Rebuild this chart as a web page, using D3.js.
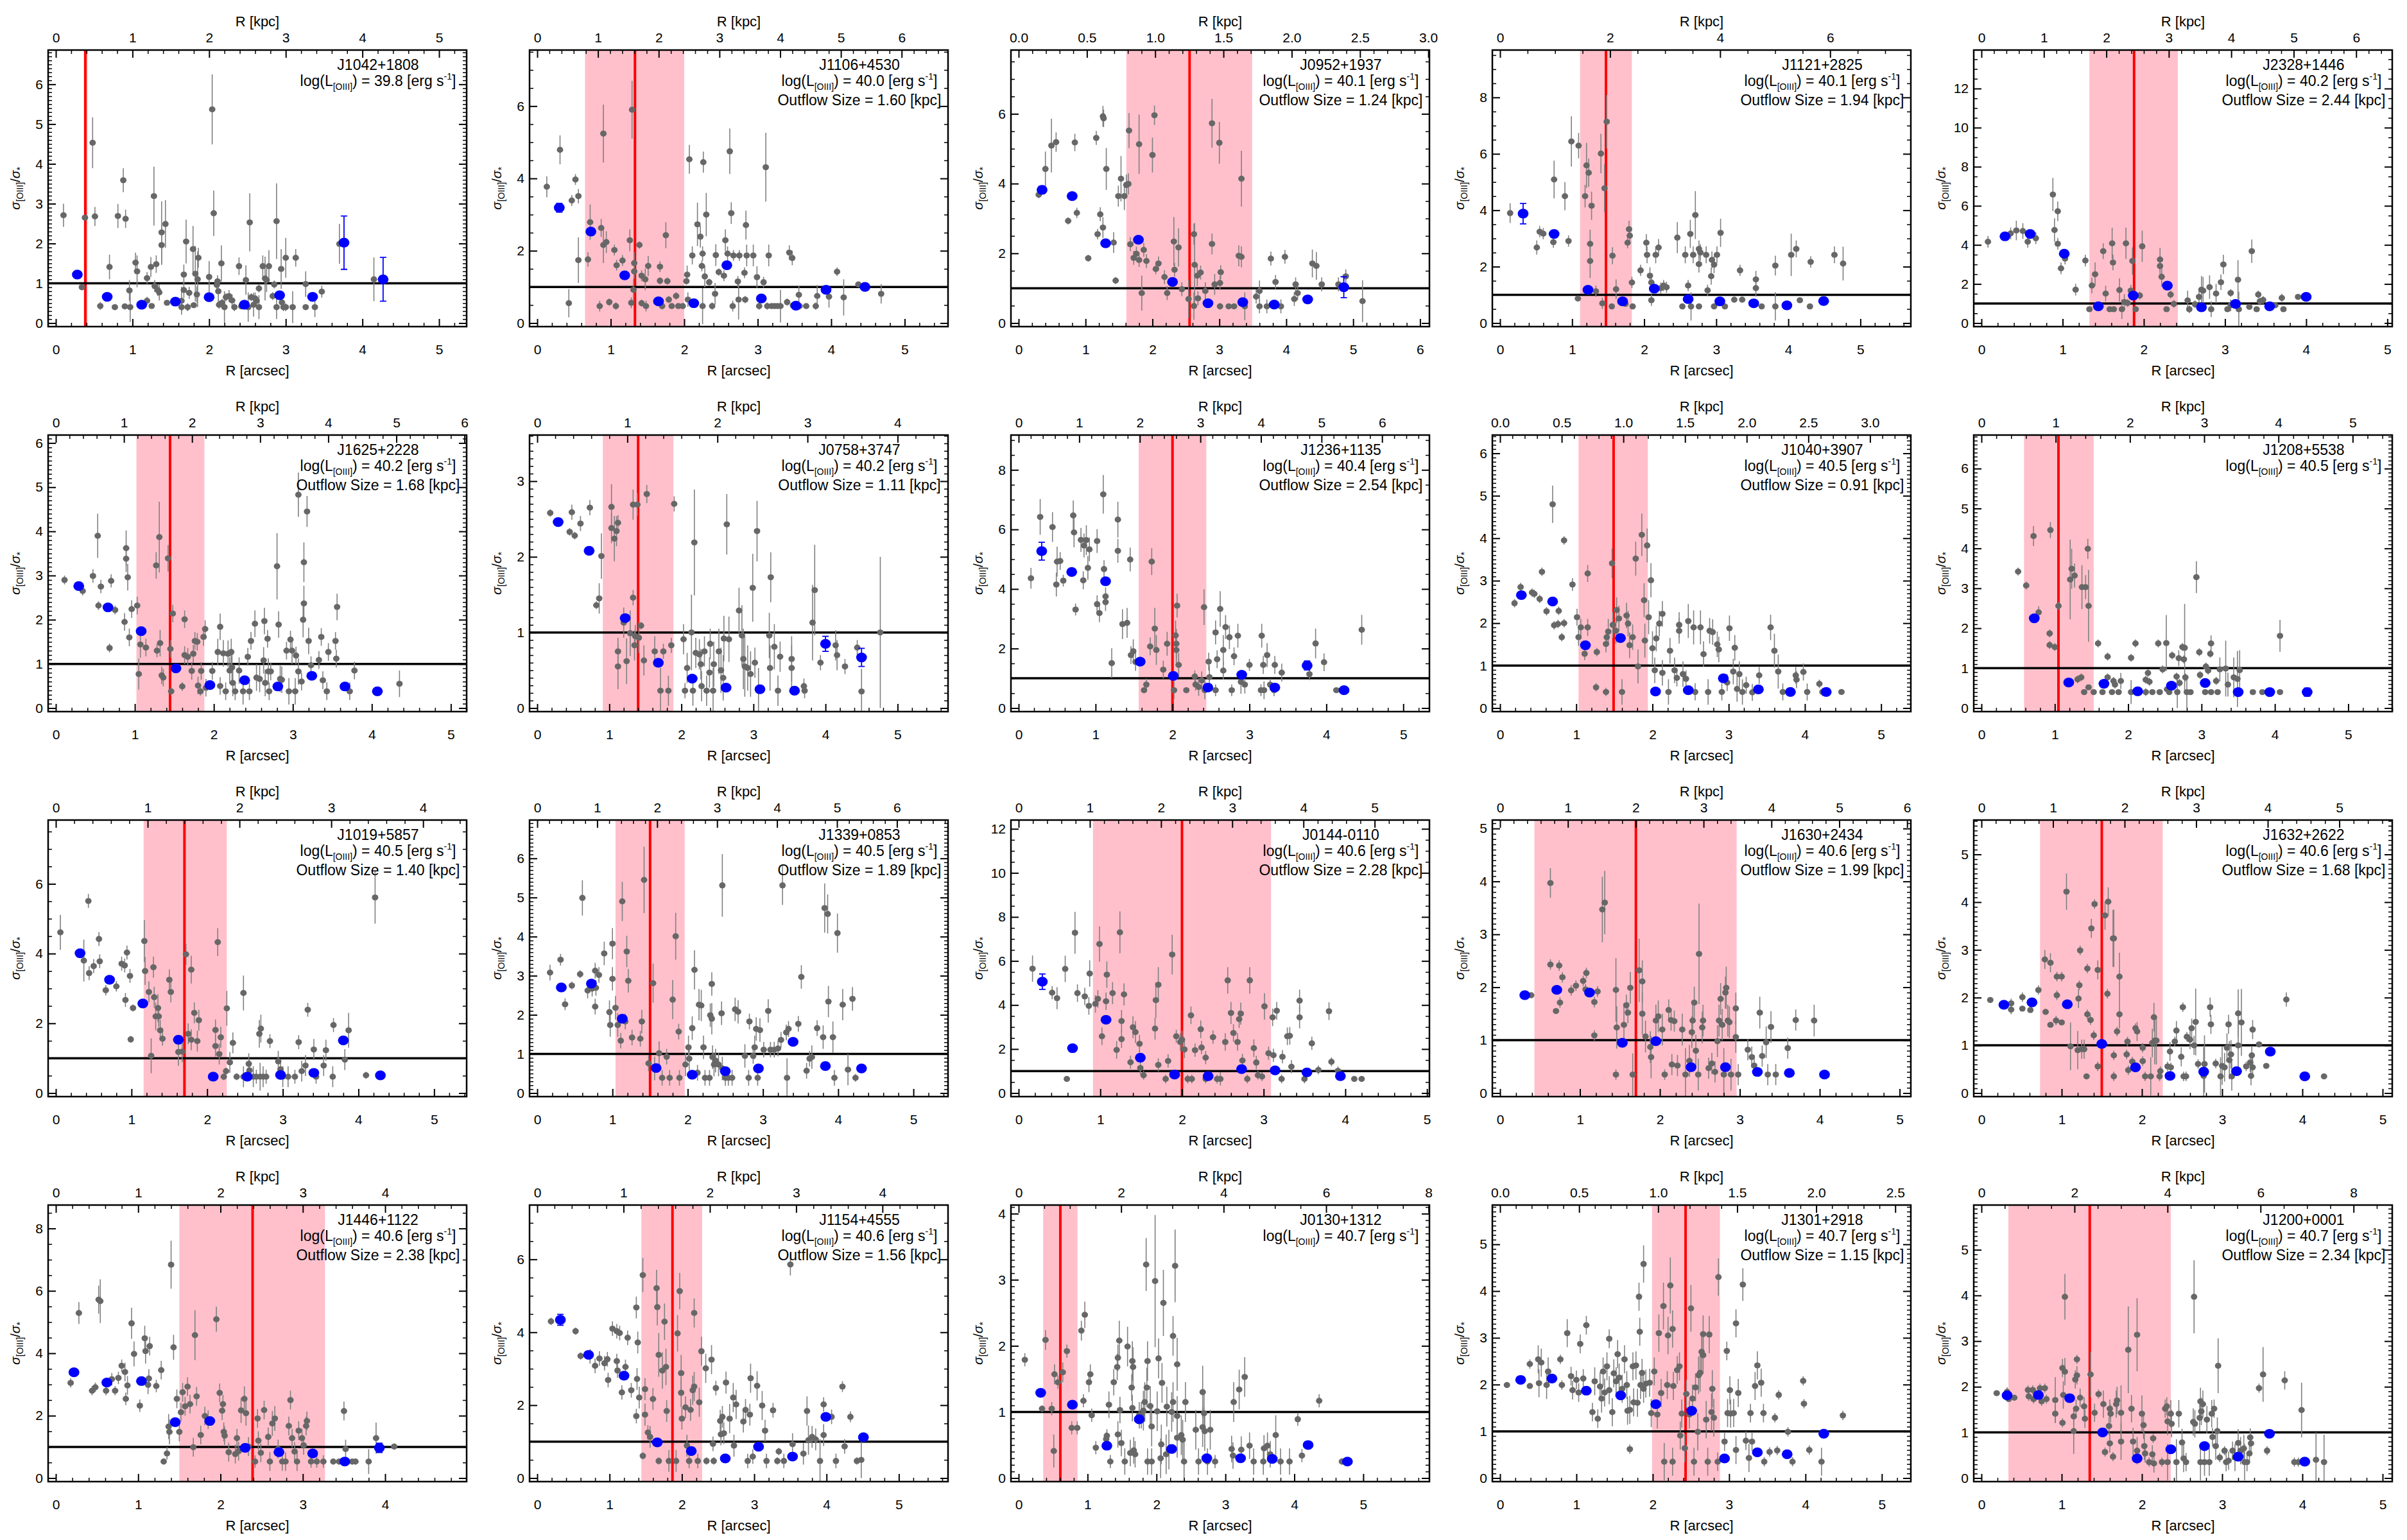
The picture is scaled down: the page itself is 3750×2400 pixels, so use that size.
<!DOCTYPE html>
<html>
<head>
<meta charset="utf-8">
<script src="https://cdn.jsdelivr.net/npm/d3@7"></script>
<style>
body { margin: 0; background: #fff; }
text { font-family: "Liberation Sans", Arial, Helvetica, sans-serif; }
</style>
</head>
<body>
<script>
// ---- panel meta data (one entry per panel, row by row) ----
const names = ["J1042+1808","J1106+4530","J0952+1937","J1121+2825","J2328+1446",
               "J1625+2228","J0758+3747","J1236+1135","J1040+3907","J1208+5538",
               "J1019+5857","J1339+0853","J0144-0110","J1630+2434","J1632+2622",
               "J1446+1122","J1154+4555","J0130+1312","J1301+2918","J1200+0001"];
const logL = ["39.8","40.0","40.1","40.1","40.2","40.2","40.2","40.4","40.5","40.5",
              "40.5","40.5","40.6","40.6","40.6","40.6","40.6","40.7","40.7","40.7"];
const outflow = [null,"1.60","1.24","1.94","2.44","1.68","1.11","2.54","0.91",null,
                 "1.40","1.89","2.28","1.99","1.68","2.38","1.56",null,"1.15","2.34"];
// arcsec axis upper limit, kpc per arcsec, top axis step
const xMax = [5.36,5.59,6.14,5.70,5.06,5.20,5.70,5.34,5.39,5.60,
              5.43,5.46,5.03,5.14,5.12,4.99,5.68,5.96,5.38,5.12];
const kpcScale = [1.0,1.21,0.49,1.31,1.30,1.16,0.80,1.27,0.618,0.988,
                  0.824,1.255,1.147,1.178,1.121,1.0,0.838,1.345,0.483,1.725];
const kpcStep = [1,1,0.5,2,1,1,1,1,0.5,1,1,1,1,1,1,1,1,2,0.5,2];
// y axis upper limit and major step
const yMax = [6.86,7.55,7.83,9.68,13.97,6.18,3.61,9.17,6.43,6.84,
              7.83,6.98,12.4,5.16,5.72,8.75,7.49,4.13,5.84,5.98];
const yStep = [1,2,2,2,2,1,1,2,1,1,2,1,2,1,1,2,2,1,1,1];
// outflow radius (red line) and its range (pink band), arcsec
const redR = [0.385,1.33,2.555,1.47,1.88,1.446,1.40,2.00,1.49,1.05,
              1.70,1.50,2.00,1.70,1.50,2.39,1.87,0.605,2.43,1.35];
const bandLo = [0.365,0.65,1.61,1.11,1.33,1.02,0.91,1.56,1.03,0.58,
                1.16,1.04,0.91,0.43,0.73,1.50,1.44,0.356,1.99,0.336];
const bandHi = [0.415,2.00,3.49,1.83,2.42,1.88,1.89,2.44,1.94,1.53,
                2.26,1.96,3.09,2.96,2.26,3.27,2.28,0.854,2.88,2.36];

// ---- spaxel points: R [arcsec], sigma ratio, error (flattened triples) ----
const grey = [
[0.10,2.71,0.29,0.34,0.90,0.05,0.38,2.65,0.05,0.48,4.53,0.64,0.51,2.68,0.24,0.58,0.43,0.1,0.70,1.41,0.31,0.77,0.40,0.05,0.81,2.69,0.3,0.88,3.59,0.3,0.91,2.62,0.23,0.90,0.42,0.05,0.96,0.82,0.26,0.97,0.40,0.37,1.04,1.52,0.25,1.06,1.30,0.4,1.19,1.13,0.15,1.19,0.56,0.1,1.24,1.41,0.25,1.25,0.43,0.05,1.28,3.19,0.74,1.29,0.93,0.15,1.31,1.48,0.22,1.33,0.83,0.15,1.35,0.77,0.2,1.38,2.28,0.78,1.38,1.96,0.5,1.43,2.49,0.6,1.45,0.51,0.05,1.64,0.56,0.35,1.64,0.40,0.1,1.67,1.22,0.25,1.67,0.83,0.2,1.70,2.05,0.55,1.72,0.40,0.1,1.74,0.76,0.15,1.79,1.86,0.58,1.80,0.45,0.05,1.82,1.24,0.7,1.84,0.72,0.2,1.85,1.10,0.7,1.86,1.64,0.25,2.00,1.16,0.4,2.04,5.37,0.88,2.06,2.76,0.57,2.10,0.96,0.15,2.11,1.05,0.15,2.12,0.80,0.3,2.13,0.46,0.1,2.16,1.50,0.45,2.17,0.51,0.1,2.20,0.40,0.4,2.22,0.65,0.1,2.26,0.68,0.15,2.30,0.57,0.15,2.33,0.40,0.1,2.39,1.43,0.22,2.42,0.42,0.05,2.48,1.08,0.37,2.51,0.40,0.37,2.53,2.53,0.73,2.55,0.65,0.1,2.58,0.46,0.3,2.60,0.62,0.15,2.62,0.56,0.1,2.65,0.40,0.3,2.65,0.87,0.1,2.70,1.43,0.27,2.73,1.12,0.55,2.75,1.08,0.3,2.78,1.43,0.4,2.85,0.97,0.1,2.83,0.68,0.1,2.88,2.56,0.95,2.88,0.40,0.3,2.94,1.36,0.5,2.95,0.52,0.15,2.97,0.40,0.1,3.00,1.64,0.5,3.00,0.40,0.1,3.09,0.40,0.4,3.13,1.64,0.22,3.26,0.98,0.32,3.26,0.40,0.05,3.38,0.40,0.25,3.47,0.79,0.15,3.70,1.99,0.5,4.15,1.10,0.55],
[0.13,3.77,0.29,0.31,4.79,0.4,0.43,0.55,0.39,0.47,3.39,0.15,0.52,3.97,0.15,0.56,3.51,0.2,0.56,1.74,0.63,0.69,1.76,0.2,0.72,2.79,0.49,0.85,0.47,0.15,0.87,2.63,0.25,0.90,5.24,0.8,0.90,2.16,0.5,0.94,2.24,0.3,0.98,0.58,0.1,1.05,2.02,0.15,1.07,0.47,0.1,1.08,1.60,0.15,1.16,1.73,0.15,1.26,2.29,0.3,1.28,0.56,0.15,1.29,5.90,0.8,1.31,0.92,0.3,1.32,1.66,0.3,1.32,1.43,0.2,1.39,2.16,0.1,1.42,1.31,0.15,1.47,1.21,0.3,1.42,0.55,0.1,1.48,0.47,0.15,1.51,1.58,0.28,1.67,1.56,0.15,1.67,1.17,0.1,1.70,0.47,0.1,1.75,2.43,0.36,1.77,1.16,0.1,1.79,0.65,0.1,1.83,0.47,0.05,1.89,0.75,0.1,1.92,0.47,0.05,1.98,0.47,0.05,2.03,1.16,0.1,2.04,1.34,0.25,2.07,4.53,0.4,2.05,0.65,0.2,2.11,1.87,0.25,2.18,2.73,0.6,2.22,2.39,0.3,2.24,1.58,0.15,2.25,1.92,0.2,2.26,4.45,0.29,2.25,0.47,0.5,2.28,1.29,0.3,2.30,3.00,0.6,2.34,1.13,0.1,2.38,0.47,0.1,2.42,0.81,0.3,2.43,1.88,0.3,2.47,1.41,0.1,2.54,1.31,0.15,2.56,2.29,0.3,2.59,1.92,0.2,2.62,4.75,0.63,2.64,3.04,0.3,2.66,0.47,0.15,2.67,1.87,0.15,2.73,1.15,0.15,2.74,0.65,0.55,2.75,1.87,0.15,2.82,1.39,0.15,2.84,2.71,0.4,2.83,0.65,0.1,2.85,1.87,0.3,2.94,1.87,0.3,2.99,1.27,0.3,3.02,0.47,0.1,3.08,1.13,0.15,3.11,4.31,0.95,3.13,0.47,0.1,3.15,1.87,0.3,3.19,0.47,0.05,3.23,0.47,0.05,3.27,0.47,0.05,3.31,0.47,0.45,3.40,0.58,0.1,3.43,1.95,0.2,3.47,1.80,0.2,3.48,0.49,0.1,3.56,0.78,0.25,3.57,0.47,0.1,3.66,0.47,0.05,3.79,0.47,0.1,3.81,0.75,0.3,3.97,0.73,0.3,4.08,1.42,0.12,4.17,0.71,0.5,4.37,1.07,0.05,4.68,0.81,0.27],
[0.30,3.68,0.1,0.40,4.42,0.5,0.49,5.09,0.77,0.56,5.19,0.28,0.74,2.93,0.1,0.84,5.18,0.25,0.87,3.16,0.15,1.04,1.86,0.1,1.16,5.31,0.2,1.18,2.55,0.15,1.22,3.12,0.2,1.26,5.93,0.3,1.27,5.87,0.25,1.26,2.74,0.3,1.31,4.42,0.6,1.42,2.31,0.3,1.45,1.22,0.1,1.49,3.64,0.3,1.53,4.14,0.65,1.58,3.64,0.4,1.61,3.96,0.3,1.64,3.99,0.3,1.65,5.52,0.5,1.67,2.26,0.2,1.72,1.87,0.2,1.76,1.99,0.2,1.80,5.13,0.85,1.80,1.81,0.2,1.84,0.86,0.5,1.87,2.10,0.2,1.91,1.78,0.2,2.00,4.82,0.5,2.03,5.96,0.28,2.05,1.55,0.15,2.09,1.71,0.2,2.18,1.32,0.2,2.22,0.86,0.2,2.32,2.34,0.7,2.33,1.53,0.2,2.39,2.17,0.55,2.44,0.97,0.2,2.54,0.69,0.55,2.62,2.55,0.3,2.62,0.49,0.4,2.63,1.67,1.2,2.67,1.36,0.3,2.72,1.45,0.2,2.68,0.71,0.2,2.79,0.92,0.25,2.89,5.73,0.7,2.89,2.27,0.3,2.93,1.11,0.3,3.00,5.17,0.6,3.01,1.15,0.2,3.02,1.46,0.2,3.01,0.48,0.1,3.14,0.48,0.05,3.22,0.48,0.05,3.29,1.93,0.3,3.33,1.90,0.3,3.33,4.14,0.8,3.38,0.48,0.4,3.55,0.76,0.2,3.60,0.92,0.3,3.60,0.48,0.2,3.71,0.48,0.2,3.77,1.85,0.2,3.84,1.18,0.2,3.92,0.48,0.2,3.98,1.90,0.2,4.12,0.69,0.2,4.14,1.11,0.2,4.17,0.86,0.2,4.39,1.71,0.4,4.45,1.64,0.4,4.53,1.11,0.2,4.78,1.11,0.2,4.89,1.34,0.2,5.14,0.63,0.6],
[0.14,3.90,0.35,0.51,2.68,0.25,0.55,3.24,0.2,0.60,3.17,0.2,0.74,2.87,0.2,0.75,5.09,0.67,0.90,4.50,0.5,0.95,2.91,0.2,0.99,6.44,0.89,1.08,0.87,0.1,1.09,6.29,0.45,1.18,4.50,0.4,1.20,5.59,0.8,1.23,5.33,0.5,1.25,2.81,0.5,1.25,2.20,0.6,1.27,4.16,0.5,1.33,1.13,0.2,1.40,6.01,0.7,1.42,0.70,0.2,1.45,4.78,0.85,1.48,7.14,0.95,1.55,0.59,0.05,1.56,2.39,0.3,1.61,1.20,0.35,1.74,0.68,0.1,1.77,2.85,0.2,1.79,3.33,0.3,1.80,3.10,0.2,1.83,1.44,0.2,1.84,0.59,0.1,1.95,1.87,0.2,2.03,2.85,0.3,2.04,2.42,0.3,2.08,1.68,0.3,2.10,1.44,0.3,2.10,0.81,0.2,2.16,2.42,0.3,2.20,2.68,0.3,2.23,1.24,0.2,2.27,1.33,0.2,2.31,1.27,0.2,2.46,3.03,0.55,2.53,0.59,0.1,2.57,2.42,0.3,2.61,1.33,0.2,2.64,3.16,0.5,2.65,0.59,0.5,2.68,2.42,0.3,2.71,3.83,0.85,2.76,2.63,0.3,2.76,2.09,0.3,2.76,0.59,0.1,2.78,2.50,0.3,2.86,2.42,0.3,2.88,1.16,0.2,2.93,1.66,0.3,2.94,2.24,0.3,2.97,2.07,0.3,3.01,2.42,0.3,3.06,3.20,0.5,2.97,0.59,0.1,3.12,0.59,0.1,3.25,0.83,0.1,3.33,1.87,0.2,3.36,0.83,0.1,3.55,1.55,0.3,3.55,1.24,0.3,3.63,0.59,0.1,3.82,2.04,0.35,3.82,0.59,0.5,4.04,2.42,0.75,4.11,2.63,0.3,4.16,0.81,0.1,4.30,0.59,0.1,4.31,2.17,0.2,4.64,2.42,0.3,4.76,2.11,0.6],
[0.08,4.16,0.3,0.36,4.59,0.3,0.43,4.74,0.5,0.51,4.71,0.4,0.57,4.16,0.3,0.67,4.34,0.3,0.88,6.58,0.85,0.90,4.76,0.6,0.94,5.72,0.5,0.94,4.06,0.3,0.98,2.80,0.3,1.03,3.30,0.3,1.16,1.71,0.3,1.28,3.20,0.3,1.33,0.71,0.1,1.36,1.92,0.4,1.40,2.50,0.6,1.50,3.68,0.4,1.53,1.51,0.4,1.58,0.71,0.1,1.61,4.08,0.8,1.62,3.10,0.4,1.63,0.71,0.1,1.70,1.69,0.6,1.73,0.71,0.5,1.76,1.08,0.4,1.78,4.08,0.8,1.80,1.03,0.2,1.84,1.66,0.3,1.86,3.18,0.7,1.90,0.71,0.1,1.95,1.41,0.2,1.98,3.93,0.8,2.20,3.25,0.6,2.20,2.92,0.5,2.22,2.37,0.5,2.28,0.71,0.1,2.33,1.46,0.2,2.37,0.98,0.2,2.54,1.16,0.5,2.56,0.71,0.2,2.63,0.96,0.2,2.68,1.34,0.3,2.71,1.71,0.7,2.73,1.66,0.7,2.81,1.84,0.6,2.83,0.71,0.4,2.89,1.51,0.5,2.95,2.09,0.4,2.98,3.00,0.5,3.03,0.71,0.1,3.07,1.54,0.2,3.07,0.91,0.3,3.16,2.22,1.0,3.17,0.71,0.9,3.30,0.83,0.1,3.33,3.68,0.6,3.39,0.71,0.1,3.41,1.46,0.2,3.43,1.11,0.2,3.47,1.18,0.2,3.62,0.91,0.1,3.70,1.29,0.2,3.72,0.71,0.1,3.90,1.34,0.1],
[0.11,2.90,0.1,0.34,2.65,0.1,0.47,2.99,0.15,0.53,3.90,0.5,0.54,2.32,0.1,0.57,2.75,0.15,0.68,1.36,0.1,0.70,2.88,0.15,0.75,2.22,0.1,0.87,1.95,0.2,0.89,3.62,0.4,0.89,3.38,0.3,0.91,2.96,0.3,0.93,1.60,0.2,0.96,2.24,0.2,1.03,2.32,0.2,1.05,0.77,0.35,1.07,1.44,0.3,1.14,1.37,0.2,1.27,3.23,0.3,1.28,1.30,0.15,1.31,3.87,0.8,1.32,1.47,0.3,1.34,0.74,0.2,1.36,0.69,0.2,1.42,3.39,0.3,1.45,1.34,0.2,1.46,0.38,0.1,1.48,2.14,0.2,1.60,0.49,0.1,1.63,2.01,0.2,1.63,1.20,0.2,1.67,1.16,0.2,1.72,0.84,0.2,1.74,1.23,0.2,1.76,1.52,0.2,1.79,1.50,0.2,1.80,0.51,0.2,1.83,0.38,0.1,1.84,0.84,0.2,1.87,1.61,0.2,1.89,1.79,0.2,1.90,0.46,0.2,1.98,0.84,0.2,2.05,1.27,0.3,2.08,1.84,0.3,2.08,0.50,0.2,2.12,1.24,0.3,2.15,0.38,0.2,2.18,1.23,0.3,2.20,0.85,0.3,2.22,1.27,0.3,2.23,0.92,0.3,2.24,0.57,0.3,2.27,0.38,0.2,2.32,0.85,0.3,2.37,0.38,0.3,2.43,1.16,0.2,2.45,0.38,0.2,2.47,1.52,0.2,2.52,1.91,0.3,2.54,0.69,0.3,2.58,0.66,0.3,2.63,1.08,0.3,2.64,1.97,0.3,2.65,0.57,0.3,2.68,1.57,0.2,2.69,0.83,0.3,2.70,0.38,0.2,2.72,0.83,0.2,2.80,3.21,0.75,2.82,1.89,0.3,2.84,0.66,0.3,2.86,0.64,0.3,2.92,1.30,0.2,2.95,0.38,0.3,2.97,1.55,0.2,2.99,1.30,0.3,3.03,0.38,0.3,3.04,1.19,0.2,3.07,0.83,0.3,3.07,4.83,0.5,3.11,0.60,0.2,3.13,2.00,0.4,3.14,2.37,0.4,3.14,3.30,0.45,3.18,4.45,0.35,3.20,1.52,0.3,3.23,0.97,0.2,3.33,1.09,0.2,3.36,1.61,0.2,3.38,0.63,0.2,3.43,0.38,0.2,3.45,1.27,0.2,3.54,1.52,0.2,3.55,1.12,0.2,3.56,2.29,0.3,3.72,0.38,0.2,3.78,0.85,0.2,4.35,0.55,0.3],
[0.18,2.58,0.05,0.45,2.33,0.05,0.48,2.59,0.1,0.52,2.28,0.05,0.60,2.44,0.1,0.73,2.65,0.1,0.82,1.36,0.05,0.86,1.45,0.2,0.89,2.01,0.3,1.03,2.66,0.3,1.03,2.38,0.2,1.07,2.24,0.3,1.10,2.34,0.2,1.12,0.75,0.18,1.12,0.55,0.3,1.12,2.45,0.1,1.20,1.13,0.2,1.24,0.62,0.3,1.29,0.99,0.3,1.33,2.69,0.2,1.33,1.46,0.1,1.35,0.83,0.2,1.36,0.95,0.15,1.39,2.69,0.15,1.41,0.93,0.2,1.44,1.09,0.05,1.48,0.63,0.2,1.52,2.83,0.12,1.63,0.75,0.2,1.71,0.23,0.3,1.75,0.75,0.1,1.82,0.23,0.2,1.86,0.83,0.1,1.90,2.70,0.1,2.03,0.91,0.2,2.05,0.23,0.1,2.08,0.53,0.2,2.14,1.00,0.5,2.16,0.23,0.2,2.18,2.19,0.7,2.20,0.73,0.2,2.25,0.71,0.2,2.27,0.58,0.2,2.28,0.29,0.2,2.32,0.75,0.2,2.35,0.23,0.2,2.39,0.47,0.2,2.40,0.85,0.2,2.44,0.23,0.3,2.45,0.58,0.3,2.52,0.75,0.3,2.55,0.50,0.3,2.58,0.40,0.3,2.59,0.92,0.3,2.63,2.43,0.4,2.66,0.91,0.3,2.80,1.29,0.3,2.84,0.96,0.4,2.86,0.65,0.4,2.88,0.55,0.4,2.92,0.53,0.3,2.96,0.45,0.3,2.99,1.59,0.45,3.02,0.60,0.2,3.05,2.34,0.4,3.07,0.23,0.3,3.22,0.96,0.3,3.23,0.53,0.3,3.24,1.73,0.33,3.29,0.81,0.3,3.34,0.23,0.2,3.37,0.68,0.2,3.53,0.65,0.3,3.53,0.53,0.3,3.70,0.29,0.1,3.71,0.23,0.1,3.82,1.13,0.5,3.85,1.56,0.6,3.93,0.60,0.1,4.14,0.83,0.2,4.16,0.70,0.2,4.27,0.55,0.1,4.44,0.80,0.1,4.50,0.22,0.3,4.76,1.00,1.0],
[0.16,4.36,0.35,0.28,6.42,0.6,0.44,6.08,0.5,0.49,4.15,0.4,0.50,4.92,0.5,0.54,4.94,0.3,0.58,4.28,0.2,0.71,6.47,0.5,0.72,5.90,0.5,0.74,3.31,0.2,0.81,5.65,0.4,0.84,4.29,0.3,0.85,5.46,0.4,0.88,5.64,0.5,0.90,4.71,0.4,0.92,5.33,0.4,1.02,5.61,0.4,1.02,3.49,0.3,1.05,3.19,0.3,1.10,7.18,0.65,1.11,4.67,0.3,1.13,3.75,0.3,1.13,3.56,0.3,1.21,1.51,0.5,1.29,6.33,0.6,1.29,5.28,0.4,1.35,2.82,0.5,1.41,2.86,0.5,1.45,4.99,0.4,1.46,1.78,0.3,1.49,1.91,0.4,1.52,1.55,0.3,1.63,0.60,0.1,1.66,0.79,0.2,1.71,2.07,0.3,1.73,4.92,0.45,1.77,2.67,0.7,1.79,1.95,0.5,1.88,1.29,0.3,1.93,2.16,0.4,2.02,0.60,0.3,2.04,2.44,0.5,2.05,2.16,0.5,2.05,1.95,0.5,2.06,3.44,0.4,2.08,1.45,0.4,2.18,0.60,0.1,2.29,1.06,0.2,2.30,0.79,0.2,2.34,0.71,0.3,2.38,0.93,0.3,2.41,3.39,0.6,2.42,0.60,0.3,2.47,1.56,0.3,2.48,1.04,0.4,2.56,0.60,0.2,2.56,2.54,0.4,2.58,1.64,0.3,2.62,3.33,0.6,2.66,1.95,0.5,2.66,1.26,0.3,2.69,2.72,0.4,2.74,2.38,0.4,2.77,0.60,0.2,2.80,1.74,0.3,2.85,2.43,0.4,2.89,0.88,0.4,2.94,0.79,0.3,3.00,1.45,0.2,3.15,0.60,0.2,3.16,2.43,0.4,3.18,1.45,0.3,3.19,0.60,0.3,3.23,1.78,0.4,3.27,0.79,0.2,3.32,0.60,0.2,3.33,1.45,0.3,3.42,1.19,0.3,3.78,1.14,0.2,3.86,2.17,0.5,3.97,1.54,0.3,4.13,0.60,0.05,4.46,2.63,0.5],
[0.19,2.47,0.1,0.27,2.85,0.1,0.42,2.72,0.1,0.45,2.69,0.1,0.52,2.57,0.1,0.55,3.21,0.1,0.61,2.28,0.1,0.69,4.80,0.44,0.71,1.95,0.1,0.76,1.98,0.1,0.77,2.29,0.1,0.81,1.67,0.1,0.84,3.95,0.1,0.84,2.00,0.1,0.95,2.91,0.15,1.01,2.14,0.2,1.03,1.67,0.2,1.06,1.90,0.2,1.11,1.28,0.15,1.15,3.17,0.2,1.15,1.90,0.2,1.26,0.49,0.1,1.27,1.32,0.1,1.39,0.38,0.1,1.39,1.51,0.2,1.40,1.67,0.2,1.42,1.80,0.3,1.47,3.41,0.35,1.48,1.96,0.3,1.52,1.82,0.3,1.53,2.31,0.3,1.56,2.11,0.3,1.60,0.38,0.3,1.66,2.18,0.3,1.68,1.99,0.3,1.70,1.48,0.3,1.74,1.67,0.3,1.78,3.52,0.4,1.81,0.98,0.4,1.86,4.08,0.5,1.89,2.54,0.4,1.90,1.59,0.4,1.93,3.83,0.4,1.95,2.14,0.4,1.98,3.01,0.4,2.00,1.41,0.4,2.03,0.89,0.3,2.05,1.64,0.3,2.09,1.99,0.3,2.13,2.22,0.3,2.13,0.83,0.3,2.21,0.38,0.3,2.23,1.35,0.3,2.29,0.89,0.3,2.32,0.71,0.2,2.35,1.96,0.3,2.35,1.82,0.3,2.40,0.80,0.3,2.44,0.69,0.2,2.47,2.05,0.4,2.54,1.90,0.4,2.56,0.38,0.2,2.63,1.90,0.4,2.67,1.27,0.3,2.73,0.38,0.3,2.75,1.82,0.3,2.79,1.79,0.3,2.85,1.50,0.3,2.87,1.38,0.3,2.91,0.38,0.2,2.98,0.60,0.2,3.01,1.88,0.3,3.06,0.86,0.3,3.08,1.42,0.3,3.11,0.45,0.3,3.14,0.80,0.3,3.18,0.38,0.3,3.23,0.54,0.2,3.31,0.37,0.2,3.40,0.77,0.2,3.55,1.90,0.3,3.60,1.35,0.4,3.65,0.86,0.4,3.71,0.38,0.2,3.88,0.77,0.2,3.89,0.67,0.2,3.98,0.85,0.2,4.03,0.38,0.2,4.19,0.57,0.1,4.23,0.38,0.1,4.48,0.38,0.05],
[0.50,3.42,0.1,0.61,3.07,0.1,0.71,4.31,0.25,0.78,2.40,0.15,0.93,1.87,0.1,0.94,4.46,0.2,0.93,1.58,0.1,1.00,1.53,0.1,1.05,2.56,0.1,1.21,3.22,1.0,1.23,3.49,0.5,1.27,3.32,0.3,1.31,0.72,0.1,1.36,0.77,0.1,1.37,3.03,0.55,1.40,0.40,0.05,1.42,3.03,0.3,1.45,3.99,0.25,1.46,0.52,0.05,1.46,2.56,0.9,1.53,0.40,0.05,1.59,1.62,0.1,1.65,0.40,0.05,1.72,1.29,0.1,1.72,0.77,0.1,1.78,0.40,0.05,1.80,0.68,0.1,1.82,0.59,0.1,1.87,0.40,0.05,1.90,0.68,0.2,2.04,1.26,0.1,2.04,0.40,0.3,2.10,1.62,0.1,2.24,0.40,0.1,2.27,0.88,0.1,2.24,0.71,0.1,2.29,0.66,0.1,2.33,0.40,0.05,2.41,1.62,0.1,2.43,0.40,0.05,2.47,0.97,0.1,2.52,1.63,0.7,2.53,0.47,0.1,2.56,0.40,0.05,2.60,1.32,0.1,2.67,0.40,0.4,2.66,0.79,0.1,2.69,1.25,0.2,2.70,0.63,0.1,2.74,1.53,0.1,2.76,1.22,0.1,2.77,1.51,1.1,2.78,0.77,0.1,2.80,0.40,0.4,2.85,0.40,0.05,2.93,3.28,0.4,2.97,1.40,0.1,2.98,0.83,0.1,3.05,0.40,0.05,3.06,1.04,0.1,3.09,0.94,0.1,3.12,1.36,0.1,3.13,0.40,0.05,3.13,1.62,0.2,3.20,0.68,0.1,3.22,0.40,0.05,3.25,0.97,0.3,3.33,0.99,0.7,3.36,0.59,0.3,3.44,0.77,0.5,3.49,0.73,0.7,3.52,0.95,0.5,3.70,0.40,0.05,3.83,0.40,0.05,4.07,1.81,0.4,4.07,0.40,0.05],
[0.06,4.61,0.5,0.37,3.80,0.6,0.43,5.51,0.2,0.44,3.44,0.2,0.50,3.64,0.2,0.57,4.42,0.2,0.58,3.78,0.2,0.66,2.95,0.15,0.80,3.06,0.15,0.87,3.71,0.2,0.91,3.66,0.2,0.92,2.67,0.2,0.94,4.03,0.2,0.98,3.36,0.2,0.99,1.54,0.1,1.02,2.44,0.1,1.17,4.36,0.6,1.18,3.50,0.4,1.23,2.90,0.3,1.26,1.07,0.5,1.29,3.61,0.3,1.30,2.75,0.3,1.32,2.20,0.4,1.35,2.44,0.4,1.36,2.20,0.3,1.38,1.80,0.3,1.41,1.56,0.2,1.50,3.25,0.3,1.52,2.90,0.3,1.62,1.18,0.4,1.67,1.19,0.3,1.72,3.98,0.3,1.75,1.70,0.3,1.79,3.54,0.4,1.79,1.53,0.3,1.83,2.30,0.3,1.87,1.49,0.3,1.89,2.09,0.3,2.11,1.81,0.3,2.11,1.35,0.3,2.14,4.33,0.4,2.16,1.12,0.3,2.18,1.60,0.3,2.22,0.47,0.1,2.25,0.63,0.1,2.26,2.43,0.5,2.30,0.88,0.3,2.34,1.44,0.3,2.39,0.47,0.1,2.48,2.87,0.5,2.48,0.47,0.3,2.55,0.84,0.3,2.56,0.65,0.3,2.61,0.47,0.3,2.65,0.47,0.2,2.69,1.70,0.4,2.71,1.85,0.4,2.70,0.47,0.4,2.74,0.47,0.3,2.78,0.47,0.2,2.83,1.49,0.2,2.94,0.91,0.3,2.97,0.68,0.3,3.00,0.47,0.3,3.07,0.47,0.3,3.16,0.47,0.2,3.21,1.46,0.2,3.25,0.63,0.3,3.30,0.79,0.3,3.33,2.39,0.2,3.41,1.25,0.3,3.44,0.47,0.2,3.54,0.79,0.3,3.57,1.23,0.3,3.66,0.47,0.3,3.67,1.95,0.2,3.82,0.96,0.3,3.87,1.80,0.5,4.10,0.51,0.1,4.22,5.61,0.75],
[0.17,3.08,0.2,0.31,3.41,0.15,0.37,2.27,0.15,0.46,2.75,0.1,0.57,3.04,0.1,0.60,4.99,0.45,0.67,2.62,0.2,0.73,2.67,0.2,0.77,3.13,0.2,0.77,2.21,0.2,0.78,2.69,0.2,0.82,3.02,0.2,0.89,3.57,0.3,0.96,2.07,0.3,0.97,1.74,0.3,1.00,2.92,0.3,1.00,3.82,0.4,1.04,2.18,0.3,1.07,1.74,0.3,1.11,1.34,0.2,1.13,4.90,0.5,1.17,1.83,0.2,1.19,3.62,0.4,1.21,2.87,0.3,1.26,1.42,0.2,1.37,1.39,0.2,1.39,1.83,0.3,1.42,5.45,0.85,1.48,0.76,0.2,1.54,2.81,0.5,1.56,0.63,0.3,1.62,1.02,0.3,1.66,0.39,0.2,1.72,0.93,0.2,1.76,0.39,0.2,1.80,2.39,0.5,1.84,4.01,0.6,1.88,1.57,0.2,1.89,0.39,0.2,1.97,0.73,0.3,2.01,1.17,0.3,2.02,0.88,0.3,2.06,1.66,0.3,2.09,3.15,0.5,2.13,0.52,0.2,2.15,2.26,0.4,2.18,2.24,0.4,2.21,1.17,0.3,2.23,0.39,0.2,2.29,0.39,0.2,2.30,1.99,0.3,2.32,1.90,0.4,2.32,2.79,0.3,2.33,0.92,0.3,2.35,0.73,0.3,2.37,0.83,0.3,2.41,0.73,0.3,2.45,2.04,0.3,2.46,0.63,0.3,2.46,5.31,0.8,2.50,0.39,0.2,2.54,0.39,0.2,2.59,0.39,0.2,2.63,2.14,0.3,2.67,2.08,0.3,2.76,0.95,0.3,2.81,0.39,0.2,2.82,1.83,0.2,2.87,0.95,0.2,2.89,1.17,0.3,2.91,1.64,0.3,2.96,1.61,0.3,2.93,0.39,0.2,3.01,1.11,0.2,3.07,2.10,0.3,3.10,1.11,0.2,3.15,1.11,0.2,3.20,1.14,0.2,3.24,1.36,0.2,3.26,5.31,0.5,3.31,1.55,0.2,3.32,0.39,0.5,3.34,1.64,0.2,3.47,1.77,0.2,3.51,2.97,0.3,3.58,0.57,0.2,3.62,0.88,0.2,3.65,0.92,0.3,3.72,1.66,0.2,3.80,1.43,0.3,3.82,4.73,0.63,3.86,4.58,0.5,3.87,2.34,0.4,3.93,1.43,0.4,3.95,0.39,0.2,3.99,4.09,0.5,4.06,2.26,0.4,4.13,0.60,0.4,4.19,2.41,0.3,4.23,0.39,0.1],
[0.17,5.65,0.6,0.41,4.56,0.3,0.47,4.31,0.5,0.57,5.64,0.6,0.59,0.64,0.1,0.69,7.28,0.95,0.72,4.54,0.4,0.81,4.39,0.4,0.86,3.96,0.4,0.87,5.43,0.6,0.94,4.05,0.4,0.97,4.28,0.4,0.99,6.77,0.8,1.02,2.58,0.4,1.07,4.17,0.4,1.08,5.38,0.6,1.15,4.54,0.5,1.20,1.96,0.4,1.24,7.30,0.95,1.26,3.27,0.5,1.26,2.45,0.4,1.29,4.48,0.5,1.37,1.40,0.3,1.40,2.99,0.5,1.43,2.77,0.5,1.48,2.24,0.4,1.49,1.14,0.3,1.53,0.81,0.2,1.67,2.93,0.5,1.68,4.22,0.8,1.71,4.92,0.8,1.71,1.28,0.3,1.80,0.64,0.2,1.83,1.46,0.3,1.88,6.29,0.9,1.93,2.58,0.3,1.98,2.32,0.4,2.00,2.43,0.4,2.03,1.98,0.4,2.07,0.64,0.2,2.11,3.53,0.4,2.12,0.64,0.2,2.16,1.95,0.3,2.23,2.90,0.4,2.24,2.07,0.3,2.29,1.61,0.3,2.29,0.64,0.2,2.38,2.54,0.3,2.43,0.64,0.2,2.47,0.64,0.3,2.53,2.32,0.4,2.56,5.12,0.6,2.60,3.64,0.5,2.63,2.73,0.4,2.68,2.32,0.4,2.70,3.36,0.4,2.72,3.61,0.5,2.74,1.48,0.3,2.80,0.64,0.2,2.83,5.12,0.6,2.88,2.04,0.4,2.91,1.39,0.3,2.93,0.81,0.2,2.98,0.75,0.2,3.01,3.94,0.6,3.06,1.81,0.3,3.11,3.44,0.4,3.12,1.72,0.3,3.16,3.74,0.4,3.22,0.64,0.2,3.23,1.65,0.3,3.29,2.58,0.4,3.32,2.60,0.4,3.34,1.20,0.3,3.44,4.20,0.5,3.44,3.44,0.5,3.50,0.64,0.2,3.59,2.26,0.3,3.67,1.05,0.2,3.80,3.72,0.4,3.83,1.42,0.2,3.91,1.01,0.2,4.11,0.64,0.1,4.20,0.64,0.1],
[0.39,1.85,0.05,0.63,3.97,0.28,0.63,2.43,0.1,0.70,1.55,0.05,0.74,2.41,0.1,0.75,1.71,0.1,0.78,2.19,0.1,0.89,1.94,0.1,0.95,2.03,0.1,1.04,2.12,0.1,1.07,1.96,0.1,1.08,2.27,0.1,1.18,1.72,0.1,1.18,1.09,0.1,1.22,1.92,0.1,1.28,3.47,0.62,1.31,3.60,0.6,1.45,1.95,0.6,1.46,1.24,0.4,1.45,0.35,0.1,1.55,1.29,0.4,1.58,1.66,0.2,1.60,1.52,0.2,1.63,1.99,0.3,1.66,0.35,0.4,1.74,2.32,0.6,1.78,2.11,0.4,1.78,1.50,0.4,1.82,1.07,0.3,1.88,0.87,0.3,1.89,0.68,0.4,1.95,1.37,0.3,1.98,1.45,0.3,2.03,1.20,0.3,2.06,0.35,0.1,2.11,1.57,0.2,2.14,1.38,0.2,2.18,1.36,0.2,2.15,0.54,0.2,2.22,0.52,0.2,2.28,1.20,0.3,2.32,0.35,0.5,2.37,0.61,0.3,2.40,1.15,0.3,2.41,1.37,0.3,2.43,1.71,0.3,2.45,0.80,0.3,2.49,2.63,0.95,2.48,0.35,0.3,2.53,1.24,0.3,2.54,1.37,0.3,2.61,0.47,0.2,2.65,0.56,0.2,2.69,0.40,0.2,2.72,0.98,0.3,2.74,1.37,0.3,2.76,1.78,0.3,2.78,1.29,0.3,2.80,0.35,0.5,2.82,1.90,0.3,2.83,1.99,0.4,2.85,1.37,0.3,2.87,1.34,0.3,2.89,0.35,0.3,2.95,1.60,0.3,2.95,1.06,0.3,2.98,0.35,0.2,3.10,0.82,0.2,3.15,0.68,0.2,3.18,0.52,0.2,3.25,1.52,0.3,3.28,0.70,0.2,3.33,0.96,0.3,3.35,0.35,0.2,3.39,1.25,0.3,3.45,0.35,0.2,3.60,0.85,0.2,3.70,1.38,0.2,3.93,1.37,0.3],
[0.11,1.95,0.05,0.37,1.88,0.1,0.37,1.75,0.1,0.51,2.01,0.1,0.51,1.77,0.05,0.61,1.74,0.05,0.71,2.16,0.1,0.79,2.80,0.2,0.80,1.70,0.05,0.86,2.73,0.2,0.86,1.43,0.05,0.94,2.44,0.1,0.94,2.05,0.1,0.93,1.52,0.1,1.00,2.44,0.1,1.00,1.48,0.05,1.06,4.22,0.38,1.11,0.98,0.5,1.20,0.90,0.4,1.22,2.26,0.1,1.21,1.98,0.2,1.23,2.99,0.1,1.25,0.92,0.2,1.28,0.92,0.2,1.31,0.35,0.05,1.32,2.61,0.1,1.32,1.65,0.1,1.36,1.53,0.1,1.37,3.45,0.2,1.40,1.21,0.1,1.41,3.96,0.1,1.45,2.58,0.2,1.45,0.56,0.1,1.54,3.72,0.3,1.57,2.08,0.1,1.58,4.01,0.3,1.64,3.24,0.6,1.65,3.24,0.6,1.65,0.79,0.1,1.65,0.35,0.1,1.69,1.29,0.1,1.72,2.44,0.5,1.72,1.65,0.3,1.81,0.81,0.1,1.82,1.08,0.1,1.83,0.48,0.1,1.88,0.66,0.1,1.92,1.36,0.1,1.94,1.29,0.2,2.01,0.95,0.1,2.01,0.67,0.1,2.04,0.35,0.1,2.11,0.35,0.4,2.13,1.05,0.3,2.15,1.59,0.3,2.16,1.10,0.5,2.18,1.10,0.5,2.23,0.46,0.1,2.22,0.35,0.1,2.32,0.56,0.1,2.35,0.87,0.2,2.36,0.54,0.1,2.41,1.08,0.1,2.43,1.31,0.2,2.49,0.76,0.2,2.51,1.80,0.1,2.52,0.35,0.1,2.55,0.35,0.1,2.56,1.18,0.1,2.60,1.12,0.2,2.62,1.36,0.2,2.65,1.00,0.2,2.67,1.49,0.7,2.70,0.61,0.1,2.77,0.36,0.6,2.78,0.61,0.6,2.85,1.80,0.2,2.86,1.44,0.2,2.92,0.62,0.1,2.98,0.35,0.4,3.00,0.57,0.4,3.03,0.54,0.3,3.06,0.95,0.3,3.08,1.44,0.2,3.09,0.69,0.4,3.11,0.81,0.3,3.12,0.35,0.3,3.20,1.67,0.5,3.20,1.00,0.6,3.24,1.48,0.7,3.30,0.56,0.1,3.35,0.64,0.2,3.36,0.36,0.2,3.37,0.79,0.2,3.38,1.33,0.2,3.38,0.54,0.2,3.46,1.02,0.05,3.55,0.57,0.05,3.80,1.96,0.15,4.27,0.35,0.05],
[0.18,3.05,0.15,0.28,5.29,0.35,0.44,2.80,0.15,0.48,2.91,0.15,0.52,5.72,0.45,0.54,5.67,0.7,0.61,2.80,0.15,0.68,3.17,0.2,0.72,2.80,0.15,0.76,3.21,0.2,0.80,3.60,0.2,0.84,3.40,0.3,0.85,2.54,0.2,0.87,2.97,0.3,0.92,4.96,0.5,0.95,3.98,0.4,1.02,2.32,0.2,1.08,4.48,0.4,1.09,4.07,0.4,1.12,2.99,0.3,1.13,3.19,0.3,1.14,4.23,0.3,1.22,2.95,0.2,1.28,3.46,0.3,1.31,0.53,0.1,1.35,0.79,0.2,1.37,1.65,0.4,1.38,1.48,0.4,1.40,6.84,0.77,1.43,4.19,0.4,1.47,2.54,0.3,1.50,1.48,0.3,1.52,2.11,0.3,1.54,2.75,0.3,1.57,2.30,0.3,1.60,2.93,0.3,1.63,2.37,0.3,1.67,0.99,0.3,1.69,4.58,0.8,1.71,2.62,0.3,1.76,1.38,0.3,1.81,1.99,0.3,1.85,1.87,0.3,1.95,5.09,0.4,1.99,2.73,0.3,2.02,2.16,0.3,2.03,2.37,0.3,2.04,1.48,0.3,2.05,1.36,0.3,2.10,0.83,0.3,2.18,0.77,0.3,2.20,1.28,0.3,2.22,0.86,0.3,2.25,2.17,0.4,2.29,2.54,0.4,2.31,2.08,0.4,2.34,1.01,0.3,2.42,0.53,0.2,2.45,1.91,0.3,2.46,1.20,0.3,2.49,0.81,0.3,2.53,2.18,0.3,2.58,1.32,0.3,2.60,0.53,0.3,2.63,1.75,0.4,2.66,1.91,0.4,2.70,0.93,0.3,2.75,0.53,0.3,2.79,0.53,0.3,2.83,1.67,0.3,2.85,2.50,0.3,2.87,1.28,0.3,2.90,0.85,0.3,2.93,0.53,0.3,2.95,1.52,0.3,2.99,1.28,0.3,3.01,1.05,0.3,3.04,1.67,0.3,3.05,1.83,0.3,3.10,0.53,0.2,3.17,0.53,0.2,3.25,0.53,0.2,3.37,0.53,0.1,3.44,0.53,0.1,3.50,2.15,0.3,3.52,0.93,0.3,3.60,0.53,0.1,3.64,0.53,0.1,3.80,0.53,0.4,3.89,1.28,0.5,4.11,1.01,0.1],
[0.19,4.30,0.1,0.53,4.03,0.1,0.60,3.35,0.1,0.73,3.34,0.2,0.80,3.08,0.2,0.86,3.28,0.2,0.93,3.15,0.2,0.97,3.26,0.2,0.98,2.69,0.2,1.04,4.10,0.2,1.10,4.03,0.2,1.10,3.21,0.2,1.11,2.95,0.2,1.14,3.98,0.2,1.17,2.35,0.2,1.22,3.05,0.2,1.25,3.85,0.2,1.30,2.41,0.2,1.37,1.70,0.2,1.37,4.68,0.3,1.38,2.72,0.3,1.39,3.72,0.3,1.41,2.21,0.3,1.46,5.57,0.47,1.46,0.61,0.1,1.49,2.44,0.3,1.49,1.74,0.3,1.53,1.25,0.2,1.56,1.13,0.3,1.60,2.17,0.3,1.65,5.21,0.5,1.66,4.69,0.5,1.68,3.38,0.6,1.68,0.47,0.1,1.73,2.95,0.5,1.76,4.29,0.5,1.78,3.05,0.5,1.79,1.84,0.3,1.82,0.47,0.3,1.92,0.47,0.3,1.94,3.97,0.5,1.97,5.13,0.5,1.99,2.88,0.5,1.99,2.34,0.4,2.00,1.63,0.3,2.05,1.94,0.3,2.07,0.89,0.3,2.10,0.47,0.2,2.12,1.87,0.3,2.15,2.41,0.4,2.17,4.53,0.4,2.17,2.51,0.4,2.22,0.47,0.2,2.24,2.08,0.4,2.27,3.48,0.4,2.33,3.01,0.4,2.34,0.47,0.1,2.41,3.25,0.4,2.43,0.94,0.2,2.44,0.47,0.1,2.47,2.47,0.2,2.53,1.57,0.3,2.54,1.20,0.3,2.56,1.68,0.3,2.58,1.23,0.3,2.61,2.62,0.3,2.66,1.63,0.4,2.71,2.21,0.4,2.72,0.89,0.3,2.75,2.02,0.4,2.85,1.55,0.3,2.88,1.87,0.3,2.91,0.47,0.2,2.94,1.74,0.3,2.95,2.74,0.4,2.98,0.59,0.2,3.04,2.53,0.4,3.11,1.99,0.4,3.15,1.30,0.3,3.17,0.47,0.2,3.26,1.86,0.2,3.32,0.47,0.1,3.34,0.73,0.1,3.41,0.47,0.2,3.50,5.86,0.3,3.53,0.93,0.3,3.68,0.67,0.3,3.73,1.84,0.4,3.75,1.04,0.4,3.80,1.13,0.3,3.85,1.06,0.3,3.91,0.47,0.6,3.96,1.18,0.3,3.96,2.02,0.2,4.07,1.68,0.2,4.13,0.47,0.2,4.22,2.51,0.15,4.25,0.87,0.2,4.33,1.68,0.15,4.42,0.47,0.1,4.48,0.50,0.5],
[0.09,1.79,0.1,0.34,1.05,0.05,0.39,2.09,0.15,0.48,1.05,0.1,0.51,0.41,0.25,0.52,1.57,0.15,0.57,1.45,0.1,0.64,1.60,0.15,0.70,1.92,0.1,0.77,0.76,0.1,0.85,0.76,0.1,0.91,2.23,0.15,0.94,1.17,0.1,0.96,2.47,0.2,1.02,1.45,0.15,1.04,1.57,0.15,1.06,0.95,0.1,1.12,0.46,0.1,1.27,0.59,0.1,1.28,0.64,0.1,1.31,1.11,0.2,1.33,0.25,0.1,1.38,1.45,0.2,1.44,0.66,0.2,1.43,1.68,0.2,1.44,1.82,0.2,1.46,2.08,0.3,1.47,1.03,0.2,1.49,0.53,0.2,1.54,0.25,0.2,1.58,1.99,0.3,1.62,0.38,0.2,1.64,1.37,0.2,1.65,1.06,0.2,1.65,1.77,0.3,1.66,1.68,0.3,1.67,0.42,0.2,1.69,0.36,0.2,1.75,0.95,0.2,1.78,0.95,0.2,1.81,1.02,0.3,1.83,1.15,0.3,1.85,3.23,0.4,1.86,1.37,0.3,1.87,1.77,0.3,1.87,0.25,0.2,1.91,1.09,0.3,1.93,0.25,0.2,1.93,0.78,0.3,1.98,2.98,1.0,2.01,1.01,0.3,2.03,1.81,0.3,2.06,0.30,0.3,2.07,0.51,0.3,2.08,1.44,0.3,2.10,2.65,0.5,2.14,0.36,0.3,2.15,1.08,0.3,2.18,0.43,0.3,2.22,1.00,0.3,2.24,1.15,0.3,2.24,2.15,0.3,2.27,3.21,0.55,2.30,0.61,0.3,2.30,0.94,0.3,2.30,1.72,0.4,2.36,0.65,0.3,2.38,0.58,0.3,2.40,0.25,0.3,2.42,1.15,0.3,2.57,0.73,0.3,2.61,0.25,0.2,2.67,0.77,0.3,2.67,1.30,0.4,2.69,0.98,0.3,2.70,0.71,0.3,2.74,0.25,0.2,2.78,0.73,0.3,2.85,0.25,0.1,3.09,0.44,0.2,3.12,1.15,0.3,3.11,0.34,0.2,3.20,1.34,0.3,3.23,0.43,0.2,3.28,1.53,0.3,3.35,0.49,0.2,3.41,0.25,0.2,3.55,0.25,0.2,3.56,0.45,0.2,3.61,0.49,0.2,3.65,0.36,0.2,3.73,0.65,0.3,3.80,0.25,0.2,3.93,0.25,0.2,4.05,0.89,0.1,4.11,0.34,0.1,4.36,1.17,0.1,4.69,0.25,0.05],
[0.09,1.99,0.05,0.39,1.97,0.05,0.39,2.44,0.1,0.50,2.54,0.3,0.51,2.03,0.3,0.54,2.47,0.3,0.61,1.99,0.3,0.63,2.28,0.3,0.79,2.54,0.1,0.81,1.99,0.1,0.88,3.10,0.3,0.93,2.18,0.2,0.95,1.88,0.2,1.00,2.10,0.2,1.03,1.83,0.2,1.05,2.87,0.2,1.09,2.13,0.2,1.13,3.27,0.2,1.21,1.41,0.2,1.24,2.07,0.3,1.28,1.27,0.2,1.31,1.96,0.3,1.33,1.70,0.3,1.35,2.28,0.3,1.37,1.83,0.3,1.40,2.39,0.3,1.43,2.98,0.2,1.43,1.88,0.3,1.47,1.41,0.3,1.49,2.24,0.3,1.52,2.07,0.3,1.54,2.65,0.3,1.56,2.15,0.3,1.60,1.91,0.3,1.63,2.54,0.3,1.66,1.99,0.3,1.67,1.44,0.3,1.70,0.62,0.1,1.70,1.46,0.3,1.74,2.39,0.3,1.75,1.62,0.3,1.78,2.41,0.3,1.80,1.61,0.3,1.82,3.88,0.3,1.83,3.13,0.3,1.84,1.99,0.3,1.86,2.25,0.3,1.88,1.91,0.3,1.88,4.58,0.4,1.91,2.02,0.3,1.96,2.04,0.3,1.98,1.39,0.3,2.02,2.28,0.3,2.06,1.36,0.3,2.08,3.10,0.4,2.11,1.82,0.3,2.14,3.68,0.5,2.15,0.35,0.4,2.19,1.99,0.3,2.20,3.05,0.4,2.23,4.12,0.6,2.26,0.35,0.3,2.26,3.19,0.4,2.27,1.97,0.3,2.32,2.31,0.3,2.36,0.91,0.3,2.35,2.39,0.3,2.38,1.38,0.3,2.42,0.64,0.3,2.44,1.80,0.3,2.48,1.36,0.3,2.50,3.63,0.5,2.52,1.70,0.3,2.54,0.35,0.3,2.56,1.94,0.3,2.59,0.99,0.4,2.60,2.20,0.4,2.62,2.25,0.4,2.64,2.70,0.4,2.66,2.63,0.4,2.66,3.08,0.4,2.70,1.25,0.4,2.72,0.35,0.3,2.74,3.07,0.4,2.77,1.41,0.4,2.78,1.91,0.4,2.80,1.29,0.4,2.85,0.35,0.2,2.86,4.30,0.4,2.94,0.78,0.2,2.97,2.72,0.2,2.98,1.39,0.3,3.01,1.88,0.3,3.02,1.38,0.3,3.06,1.39,0.3,3.09,0.60,0.3,3.09,3.31,0.3,3.12,1.82,0.3,3.18,4.14,0.35,3.22,0.80,0.2,3.26,0.43,0.3,3.28,1.39,0.2,3.30,0.78,0.2,3.34,1.97,0.3,3.37,2.41,0.3,3.42,2.04,0.3,3.45,1.39,0.2,3.46,0.35,0.1,3.53,0.56,0.1,3.60,1.29,0.1,3.63,0.59,0.1,3.65,1.78,0.1,3.77,0.99,0.1,3.83,0.35,0.1,3.97,2.08,0.1,3.98,1.59,0.1,4.05,0.60,0.1,4.21,0.35,0.3,4.49,1.34,0.1],
[0.19,1.86,0.05,0.32,1.89,0.1,0.34,1.73,0.05,0.41,1.76,0.05,0.58,1.93,0.1,0.59,1.79,0.1,0.64,1.93,0.1,0.65,1.73,0.1,0.73,1.97,0.1,0.75,1.68,0.1,0.79,1.97,0.1,0.81,1.73,0.1,0.92,1.71,0.5,0.92,1.41,0.2,1.01,1.21,0.1,1.01,2.41,0.2,1.02,1.82,0.3,1.04,3.97,0.5,1.04,2.33,0.3,1.15,1.03,0.5,1.15,1.35,0.2,1.17,2.16,0.2,1.18,1.52,0.2,1.19,2.60,0.1,1.19,2.25,0.2,1.23,1.76,0.2,1.28,1.57,0.2,1.29,1.30,0.2,1.36,2.27,0.5,1.41,1.43,0.2,1.46,1.84,0.1,1.52,1.62,0.3,1.54,0.57,0.1,1.59,1.14,0.2,1.60,1.52,0.2,1.61,1.41,0.2,1.60,0.76,0.2,1.64,0.47,0.1,1.68,1.62,0.3,1.69,1.70,0.3,1.74,1.43,0.6,1.74,0.80,0.4,1.83,2.81,0.95,1.87,1.52,0.3,1.89,0.80,0.3,1.94,3.14,0.8,1.94,0.60,0.3,2.00,1.41,0.4,2.02,1.16,0.3,2.03,0.70,0.3,2.04,0.54,0.2,2.09,0.35,0.1,2.13,0.52,0.2,2.14,0.87,0.1,2.15,0.32,0.2,2.25,0.35,0.1,2.29,1.52,0.2,2.31,1.57,0.2,2.32,1.24,0.3,2.32,0.35,0.4,2.36,1.41,0.3,2.37,1.19,0.3,2.46,1.41,0.3,2.43,0.35,0.5,2.50,0.78,0.3,2.52,0.43,0.3,2.55,0.35,0.2,2.64,1.23,0.3,2.65,3.97,0.8,2.66,1.19,0.3,2.72,1.32,0.3,2.73,1.68,0.3,2.74,1.46,0.3,2.73,0.35,0.4,2.76,1.62,0.3,2.78,0.35,0.3,2.81,1.28,0.3,2.84,0.35,0.3,2.87,1.41,0.3,2.88,0.90,0.2,2.90,1.52,0.2,2.92,0.70,0.3,2.94,1.03,0.3,2.95,2.46,0.6,2.97,0.45,0.1,3.03,0.60,0.1,3.05,0.35,0.2,3.08,0.38,0.2,3.13,0.60,0.2,3.16,0.45,0.3,3.20,0.77,0.3,3.23,0.60,0.3,3.27,0.65,0.3,3.28,0.35,0.4,3.31,0.35,0.2,3.34,0.54,0.2,3.35,0.89,0.2,3.36,0.76,0.2,3.46,1.97,0.1,3.51,2.27,0.6,3.56,0.60,0.1,3.78,2.14,0.2,3.90,0.35,0.1,3.95,0.35,0.1,3.99,1.49,0.6,4.17,0.40,0.6,4.27,0.35,0.6]
];

// ---- binned (blue) points: R [arcsec], ratio, error ----
const blue = [
[0.28,1.22,0.05,0.67,0.66,0.05,1.12,0.46,0.05,1.56,0.54,0.05,2.00,0.65,0.05,2.46,0.46,0.05,2.92,0.70,0.05,3.35,0.66,0.05,3.76,2.02,0.67,4.27,1.10,0.55],
[0.30,3.19,0.12,0.73,2.53,0,1.19,1.32,0,1.65,0.60,0,2.13,0.55,0,2.58,1.60,0,3.05,0.68,0,3.52,0.48,0,3.93,0.92,0,4.46,1.00,0],
[0.35,3.82,0.1,0.80,3.64,0,1.30,2.29,0,1.79,2.39,0,2.30,1.18,0,2.83,0.57,0,3.35,0.60,0,3.82,0.53,0,4.32,0.68,0,4.86,1.03,0.3],
[0.32,3.88,0.36,0.75,3.16,0,1.22,1.18,0,1.70,0.77,0,2.14,1.22,0,2.61,0.85,0,3.05,0.77,0,3.52,0.70,0,3.98,0.63,0,4.49,0.78,0],
[0.29,4.44,0,0.60,4.56,0,1.02,3.55,0,1.44,0.86,0,1.87,1.41,0,2.29,1.92,0,2.71,0.81,0,3.13,0.98,0,3.55,0.86,0,4.00,1.34,0],
[0.29,2.76,0,0.66,2.28,0,1.08,1.74,0,1.52,0.90,0,1.95,0.52,0,2.39,0.63,0,2.81,0.49,0,3.24,0.73,0,3.66,0.49,0,4.07,0.38,0],
[0.29,2.46,0,0.72,2.08,0,1.22,1.19,0,1.68,0.60,0,2.15,0.39,0,2.62,0.27,0,3.09,0.25,0,3.57,0.23,0,4.00,0.85,0.1,4.50,0.67,0.12],
[0.30,5.27,0.3,0.69,4.57,0,1.13,4.26,0,1.58,1.56,0,2.01,1.08,0,2.46,0.69,0,2.90,1.12,0,3.33,0.69,0,3.75,1.43,0.15,4.23,0.60,0],
[0.28,2.66,0,0.69,2.51,0,1.12,1.48,0,1.58,1.65,0,2.04,0.39,0,2.47,0.42,0,2.93,0.70,0,3.39,0.44,0,3.81,0.38,0,4.28,0.38,0],
[0.72,2.25,0,1.19,0.64,0,1.67,0.61,0,2.13,0.42,0,2.59,0.56,0,3.05,0.63,0,3.50,0.40,0,3.93,0.40,0,4.44,0.40,0.1],
[0.32,4.01,0,0.71,3.25,0,1.15,2.57,0,1.62,1.53,0,2.08,0.47,0,2.53,0.47,0,2.97,0.52,0,3.41,0.58,0,3.80,1.51,0,4.29,0.51,0],
[0.32,2.70,0,0.72,2.80,0,1.13,1.90,0,1.58,0.64,0,2.06,0.47,0,2.50,0.56,0,2.94,0.63,0,3.40,1.31,0,3.83,0.69,0,4.31,0.63,0],
[0.29,5.06,0.35,0.66,2.04,0,1.07,3.33,0,1.49,1.61,0,1.91,0.84,0,2.32,0.77,0,2.73,1.09,0,3.14,1.03,0,3.53,0.94,0,3.94,0.77,0],
[0.31,1.85,0,0.71,1.95,0,1.12,1.90,0,1.53,0.95,0,1.95,0.98,0,2.39,0.49,0,2.82,0.49,0,3.22,0.40,0,3.62,0.38,0,4.06,0.35,0],
[0.28,1.85,0,0.63,1.90,0,1.07,1.86,0,1.50,1.03,0,1.92,0.54,0,2.35,0.36,0,2.77,0.45,0,3.18,0.46,0,3.60,0.87,0,4.03,0.35,0],
[0.22,3.39,0,0.62,3.06,0,1.04,3.11,0,1.45,1.79,0,1.87,1.83,0,2.30,0.97,0,2.71,0.83,0,3.12,0.79,0,3.51,0.53,0,3.93,0.97,0.15],
[0.32,4.34,0.15,0.71,3.38,0,1.20,2.81,0,1.66,0.98,0,2.13,0.74,0,2.60,0.54,0,3.06,0.86,0,3.53,0.59,0,3.99,1.68,0,4.51,1.12,0],
[0.32,1.29,0,0.78,1.11,0,1.28,0.49,0,1.75,0.89,0,2.22,0.44,0,2.73,0.30,0,3.22,0.30,0,3.68,0.29,0,4.20,0.50,0,4.77,0.25,0],
[0.27,2.10,0,0.68,2.13,0,1.13,1.87,0,1.58,1.77,0,2.04,1.58,0,2.51,1.44,0,2.94,0.42,0,3.37,0.55,0,3.76,0.51,0,4.24,0.95,0],
[0.32,1.81,0,0.71,1.82,0,1.10,1.75,0,1.51,1.00,0,1.94,0.43,0,2.36,0.63,0,2.78,0.70,0,3.20,0.47,0,3.59,0.97,0,4.03,0.36,0]
];

// ---- layout ----
const W = 3750, H = 2400, cellW = 750, cellH = 600;
const fx0 = 75, fx1 = 727, fy0 = 78, fy1 = 509;
const FONT = '"Liberation Sans", Arial, Helvetica, sans-serif';
const greyCol = "#676767", barCol = "#808080";

function triples(a) {
    let out = [];
    for (let i = 0; i + 2 < a.length; i += 3) out.push({x: a[i], y: a[i + 1], e: a[i + 2]});
    return out;
}
function ticksIn(lo, hi, step) {
    let out = [];
    let n0 = Math.ceil(lo / step - 1e-6), n1 = Math.floor(hi / step + 1e-6);
    for (let n = n0; n <= n1; n++) out.push(+(n * step).toFixed(4));
    return out;
}
function minorOf(lo, hi, step, nMinor) {
    let majors = ticksIn(lo, hi, step);
    return ticksIn(lo, hi, step / nMinor).filter(v => !majors.some(m => Math.abs(m - v) < 1e-6));
}

const svg = d3.select("body").append("svg")
    .attr("width", W).attr("height", H)
    .attr("font-family", FONT);
svg.append("rect").attr("width", W).attr("height", H).attr("fill", "#fff");

names.forEach(function (name, i) {
    const col = i % 5, row = Math.floor(i / 5);
    const g = svg.append("g").attr("transform", `translate(${col * cellW},${row * cellH})`);

    const xmin = -xMax[i] * 12 / 640;
    const ymin = -yMax[i] * 5.5 / 426;
    const x = d3.scaleLinear().domain([xmin, xMax[i]]).range([fx0, fx1]);
    const y = d3.scaleLinear().domain([ymin, yMax[i]]).range([fy1, fy0]);
    const xk = d3.scaleLinear().domain([xmin * kpcScale[i], xMax[i] * kpcScale[i]]).range([fx0, fx1]);

    const clipId = "clip" + i;
    g.append("clipPath").attr("id", clipId)
        .append("rect").attr("x", fx0).attr("y", fy0).attr("width", fx1 - fx0).attr("height", fy1 - fy0);
    const plot = g.append("g").attr("clip-path", `url(#${clipId})`);

    // outflow size range + value
    plot.append("rect")
        .attr("x", x(bandLo[i])).attr("y", fy0)
        .attr("width", x(bandHi[i]) - x(bandLo[i])).attr("height", fy1 - fy0)
        .attr("fill", "#ffc0cb");
    plot.append("line")
        .attr("x1", x(redR[i])).attr("x2", x(redR[i]))
        .attr("y1", fy0).attr("y2", fy1)
        .attr("stroke", "#ff0000").attr("stroke-width", 4);

    // ratio = 1
    plot.append("line")
        .attr("x1", fx0).attr("x2", fx1)
        .attr("y1", y(1)).attr("y2", y(1))
        .attr("stroke", "#000").attr("stroke-width", 3.5);

    const gp = triples(grey[i]);
    plot.selectAll(".gerr").data(gp).enter().append("line")
        .attr("x1", d => x(d.x)).attr("x2", d => x(d.x))
        .attr("y1", d => y(d.y - d.e)).attr("y2", d => y(d.y + d.e))
        .attr("stroke", barCol).attr("stroke-width", 1.6);
    plot.selectAll(".gpt").data(gp).enter().append("ellipse")
        .attr("cx", d => x(d.x)).attr("cy", d => y(d.y))
        .attr("rx", 5).attr("ry", 4.7)
        .attr("fill", greyCol);

    const bp = triples(blue[i]);
    const be = bp.filter(d => d.e > 0);
    plot.selectAll(".berr").data(be).enter().append("path")
        .attr("d", d => {
            const cx = x(d.x), t = y(d.y + d.e), b = y(d.y - d.e);
            return `M${cx},${t}V${b}M${cx - 5},${t}H${cx + 5}M${cx - 5},${b}H${cx + 5}`;
        })
        .attr("stroke", "#0000ff").attr("stroke-width", 1.8).attr("fill", "none");
    plot.selectAll(".bpt").data(bp).enter().append("ellipse")
        .attr("cx", d => x(d.x)).attr("cy", d => y(d.y))
        .attr("rx", 8.4).attr("ry", 7.6)
        .attr("fill", "#0000ff");

    // axes, ticks pointing inward
    const xMaj = ticksIn(0, xMax[i], 1), xMin = minorOf(0, xMax[i], 1, 5);
    const kLo = 0, kHi = xMax[i] * kpcScale[i];
    const kMaj = ticksIn(kLo, kHi, kpcStep[i]);
    const kMin = minorOf(kLo, kHi, kpcStep[i], kpcStep[i] === 2 ? 4 : 5);
    const yMaj = ticksIn(0, yMax[i], yStep[i]);
    const yMin = minorOf(0, yMax[i], yStep[i], yStep[i] === 2 ? 4 : 10);
    const kFmt = kpcStep[i] < 1 ? d3.format(".1f") : d3.format("d");

    function styleAxis(sel, size) {
        sel.select(".domain").remove();
        sel.selectAll(".tick line").attr("stroke", "#000").attr("stroke-width", size > 8 ? 2 : 1.5);
        sel.selectAll(".tick text").attr("font-size", 21).attr("font-family", FONT).attr("fill", "#000");
    }
    function addAxis(gen, tr) {
        g.append("g").attr("transform", tr).call(gen).call(s => styleAxis(s, Math.abs(gen.tickSizeInner())));
    }
    addAxis(d3.axisBottom(x).tickValues(xMaj).tickSizeInner(-12).tickSizeOuter(0).tickPadding(28).tickFormat(d3.format("d")), `translate(0,${fy1})`);
    addAxis(d3.axisBottom(x).tickValues(xMin).tickSizeInner(-6).tickSizeOuter(0).tickFormat(""), `translate(0,${fy1})`);
    addAxis(d3.axisTop(xk).tickValues(kMaj).tickSizeInner(-12).tickSizeOuter(0).tickPadding(12).tickFormat(kFmt), `translate(0,${fy0})`);
    addAxis(d3.axisTop(xk).tickValues(kMin).tickSizeInner(-6).tickSizeOuter(0).tickFormat(""), `translate(0,${fy0})`);
    addAxis(d3.axisLeft(y).tickValues(yMaj).tickSizeInner(-12).tickSizeOuter(0).tickPadding(8).tickFormat(d3.format("d")), `translate(${fx0},0)`);
    addAxis(d3.axisLeft(y).tickValues(yMin).tickSizeInner(-6).tickSizeOuter(0).tickFormat(""), `translate(${fx0},0)`);
    addAxis(d3.axisRight(y).tickValues(yMaj).tickSizeInner(-12).tickSizeOuter(0).tickFormat(""), `translate(${fx1},0)`);
    addAxis(d3.axisRight(y).tickValues(yMin).tickSizeInner(-6).tickSizeOuter(0).tickFormat(""), `translate(${fx1},0)`);

    // frame
    g.append("rect")
        .attr("x", fx0).attr("y", fy0).attr("width", fx1 - fx0).attr("height", fy1 - fy0)
        .attr("fill", "none").attr("stroke", "#000").attr("stroke-width", 2.5);

    // axis titles
    g.append("text").attr("x", (fx0 + fx1) / 2).attr("y", 585)
        .attr("text-anchor", "middle").attr("font-size", 22).text("R [arcsec]");
    g.append("text").attr("x", (fx0 + fx1) / 2).attr("y", 41)
        .attr("text-anchor", "middle").attr("font-size", 22).text("R [kpc]");

    const yl = g.append("text")
        .attr("transform", `translate(31,${(fy0 + fy1) / 2}) rotate(-90)`)
        .attr("text-anchor", "middle").attr("font-size", 21);
    yl.append("tspan").attr("font-style", "italic").text("σ");
    yl.append("tspan").attr("font-size", 14).attr("dy", 5).text("[OIII]");
    yl.append("tspan").attr("dy", -5).text("/");
    yl.append("tspan").attr("font-style", "italic").text("σ");
    yl.append("tspan").attr("font-size", 14).attr("dy", 5).text("*");

    // annotation block
    const tx = fx1 - 138;
    g.append("text").attr("x", tx).attr("y", 109)
        .attr("text-anchor", "middle").attr("font-size", 23).text(name);
    const lt = g.append("text").attr("x", tx).attr("y", 134)
        .attr("text-anchor", "middle").attr("font-size", 23);
    lt.append("tspan").text("log(L");
    lt.append("tspan").attr("font-size", 14).attr("dy", 6).text("[OIII]");
    lt.append("tspan").attr("dy", -6).text(") = " + logL[i] + " [erg s");
    lt.append("tspan").attr("font-size", 14).attr("dy", -10).text("-1");
    lt.append("tspan").attr("dy", 10).text("]");
    if (outflow[i] !== null) {
        g.append("text").attr("x", tx).attr("y", 164)
            .attr("text-anchor", "middle").attr("font-size", 23)
            .text("Outflow Size = " + outflow[i] + " [kpc]");
    }
});
</script>
</body>
</html>
